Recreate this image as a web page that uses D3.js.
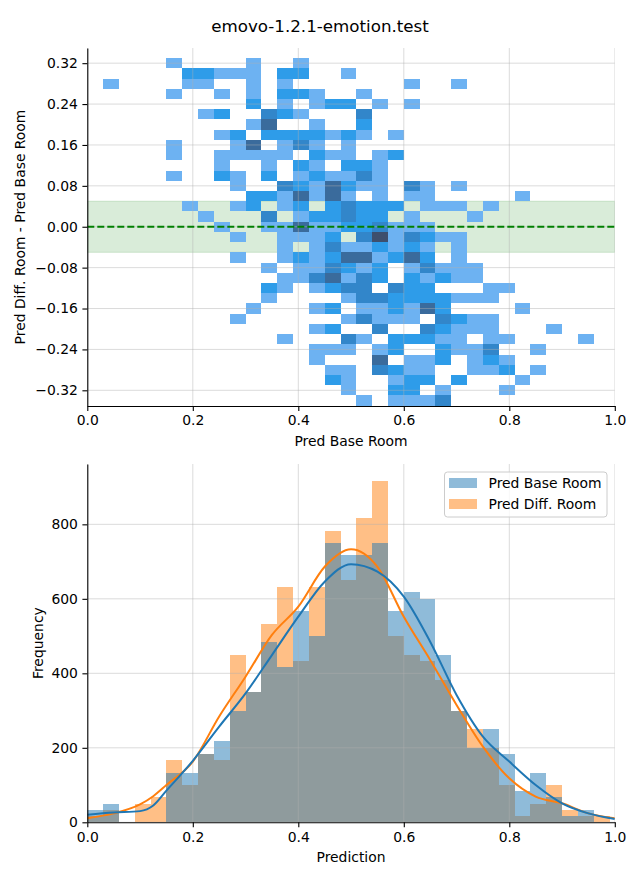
<!DOCTYPE html>
<html>
<head>
<meta charset="utf-8">
<script src="https://cdn.jsdelivr.net/npm/d3@7"></script>
<style>
  body { margin: 0; background: #fff; }
  svg { display: block; font-family: "DejaVu Sans", sans-serif; }
</style>
</head>
<body>
<svg id="chart" width="640" height="880"></svg>
<script>
// ---------------- DATA ----------------
const title = "emovo-1.2.1-emotion.test";
// 2D histogram: x bins of 0.03 from 0, y bins of 0.02 from top edge 0.33 downward
const heatXBin = 0.03;
const heatYBin = 0.02;
const heatYTop = 0.33;
// each row: "col:level" pairs (level = colour step of the count scale)
const heatRows = [
  "5:1 10:1 13:1",
  "6:2 7:2 8:1 9:1 10:1 12:2 13:2 16:1",
  "1:1 6:1 7:1 10:1 12:1 20:1 23:1",
  "5:1 8:1 10:1 12:2 13:2 14:1 17:1",
  "10:2 12:1 14:1 15:2 16:2 18:1 20:1",
  "7:1 8:2 11:3 12:2 13:1 17:3",
  "10:1 11:4 14:1 17:2",
  "8:1 9:2 11:2 12:2 13:2 14:2 15:1 16:2 17:1 19:1",
  "5:1 9:1 10:4 12:1 13:3 14:1 16:1",
  "5:1 8:1 9:1 10:1 11:1 12:1 14:2 15:1 16:1 18:1 19:2",
  "8:1 11:1 13:2 14:1 16:2 17:2 18:1",
  "5:1 8:2 9:1 11:2 13:1 14:2 15:1 16:1 17:3 18:1",
  "9:1 12:3 13:2 14:1 15:4 16:2 17:1 18:1 20:3 21:1 23:1",
  "10:2 11:2 12:1 13:4 14:1 15:4 16:1 18:1 20:1 21:1 27:1",
  "6:1 9:1 10:2 12:1 13:2 15:2 16:3 17:2 18:2 19:2 21:1 22:1 23:1 25:1",
  "7:1 11:3 13:1 14:2 15:2 16:3 17:2 18:2 20:1 24:1",
  "8:1 11:1 12:1 13:4 14:1 15:1 16:2 17:2 18:3 19:1 20:1 21:1",
  "9:1 12:1 13:1 14:1 15:2 17:3 18:5 19:1 20:3 21:2 22:1 23:1",
  "12:1 14:1 15:3 16:1 17:1 18:2 19:1 20:2 21:1 23:1",
  "9:1 12:1 13:2 14:1 15:2 16:4 17:4 18:1 19:2 20:4 21:2 23:1",
  "11:1 13:1 14:1 15:3 16:2 17:1 18:2 20:1 21:3 22:1 23:1 24:1",
  "12:1 13:1 14:3 15:4 16:1 17:3 18:2 20:2 21:1 22:2 23:1 24:1",
  "11:2 12:1 14:1 15:2 16:3 17:3 19:3 20:2 21:2 25:1 26:1",
  "11:1 16:1 17:3 18:3 19:2 20:2 21:2 22:2 23:1 24:1 25:1",
  "10:1 14:1 15:2 17:1 18:1 19:2 20:1 21:4 22:2 27:1",
  "9:1 16:1 17:3 18:1 19:1 20:1 22:3 23:2 24:1 25:1",
  "14:1 15:2 18:3 21:3 22:2 23:1 24:1 25:1 29:1",
  "12:1 16:3 17:1 19:2 20:2 21:2 22:1 23:1 25:1 26:1 31:1",
  "14:1 15:1 16:1 18:1 19:2 22:2 23:1 24:1 25:3 28:1",
  "14:1 18:4 20:1 21:1 22:2 24:1 25:2 26:1",
  "15:1 16:1 18:3 19:2 20:1 21:1 24:1 25:1 26:2 28:1",
  "15:2 16:1 19:1 20:2 21:2 23:2 27:1",
  "16:1 19:2 20:2 22:1 26:1",
  "17:1 19:1 20:1 21:1 22:3"
];
const heatColors = ["#6db2f2", "#2e9ce9", "#3286ca", "#3a6b9c", "#3e4f6d"];
const bandHalfWidth = 0.05;
const topXTicks = [0, 0.2, 0.4, 0.6, 0.8, 1.0];
const topYTicks = [-0.32, -0.24, -0.16, -0.08, 0, 0.08, 0.16, 0.24, 0.32];

// 1D histograms: 33 bins of width 0.03 starting at 0
const histBin = 0.03;
const baseFreq = [33, 50, 0, 0, 0, 133, 133, 183, 217, 300, 350, 483, 417, 567, 500, 750, 717, 717, 750, 567, 617, 600, 450, 300, 200, 250, 183, 83, 133, 67, 17, 33, 0];
const diffFreq = [17, 33, 0, 50, 67, 167, 100, 183, 167, 450, 350, 533, 633, 433, 633, 783, 650, 817, 917, 500, 450, 433, 383, 300, 250, 200, 100, 17, 50, 100, 33, 17, 17];
// KDE curves
const kdeX = [0, 0.05, 0.1, 0.125, 0.15, 0.2, 0.25, 0.3, 0.35, 0.4, 0.45, 0.5, 0.55, 0.6, 0.65, 0.7, 0.75, 0.8, 0.85, 0.9, 0.95, 1.0];
const baseKde = [20, 26, 30, 45, 85, 165, 257, 346, 449, 552, 646, 693, 673, 606, 485, 342, 230, 163, 100, 51, 24, 9];
const diffKde = [11, 24, 48, 70, 100, 163, 284, 391, 503, 579, 686, 733, 686, 552, 436, 315, 203, 118, 69, 51, 24, 11];
const botXTicks = [0, 0.2, 0.4, 0.6, 0.8, 1.0];
const botYTicks = [0, 200, 400, 600, 800];
const seriesNames = ["Pred Base Room", "Pred Diff. Room"];
const seriesColors = ["#1f77b4", "#ff7f0e"];

// ---------------- DRAW ----------------
const svg = d3.select("#chart");
const L = 87.3, R = 614.8;
const top1 = 48, bot1 = 406;
const top2 = 464, bot2 = 822.3;
const fontTick = 13.9;
const gridCol = "#b0b0b0", gridOp = 0.45;

svg.append("text").attr("x", 320).attr("y", 32).attr("text-anchor", "middle")
  .attr("font-size", 16.7).attr("fill", "#000").text(title);

// ---- top panel ----
const x1 = d3.scaleLinear().domain([0, 1]).range([L, R]);
const y1 = d3.scaleLinear().domain([-0.3507, 0.3497]).range([bot1, top1]);

const g1 = svg.append("g");
g1.append("defs").append("clipPath").attr("id", "clip1")
  .append("rect").attr("x", L).attr("y", top1).attr("width", R - L).attr("height", bot1 - top1);

const plot1 = g1.append("g").attr("clip-path", "url(#clip1)");
// band
plot1.append("rect")
  .attr("x", x1(0)).attr("width", x1(1) - x1(0))
  .attr("y", y1(bandHalfWidth)).attr("height", y1(-bandHalfWidth) - y1(bandHalfWidth))
  .attr("fill", "green").attr("fill-opacity", 0.15)
  .attr("stroke", "green").attr("stroke-opacity", 0.15).attr("stroke-width", 1);

const cells = [];
heatRows.forEach((row, r) => {
  row.split(" ").filter(s => s).forEach(p => {
    const [c, lv] = p.split(":").map(Number);
    cells.push({ r, c, lv });
  });
});
plot1.selectAll("rect.cell").data(cells).enter().append("rect")
  .attr("class", "cell")
  .attr("x", d => x1(d.c * heatXBin))
  .attr("width", d => x1((d.c + 1) * heatXBin) - x1(d.c * heatXBin))
  .attr("y", d => y1(heatYTop - d.r * heatYBin))
  .attr("height", d => y1(heatYTop - (d.r + 1) * heatYBin) - y1(heatYTop - d.r * heatYBin))
  .attr("fill", d => heatColors[d.lv - 1])
  .attr("shape-rendering", "crispEdges");

// grid
plot1.selectAll("line.gx").data(topXTicks).enter().append("line")
  .attr("x1", d => x1(d)).attr("x2", d => x1(d)).attr("y1", top1).attr("y2", bot1)
  .attr("stroke", gridCol).attr("stroke-opacity", gridOp).attr("stroke-width", 1);
plot1.selectAll("line.gy").data(topYTicks).enter().append("line")
  .attr("y1", d => y1(d)).attr("y2", d => y1(d)).attr("x1", L).attr("x2", R)
  .attr("stroke", gridCol).attr("stroke-opacity", gridOp).attr("stroke-width", 1);

// zero line
plot1.append("line").attr("x1", x1(0)).attr("x2", x1(1)).attr("y1", y1(0)).attr("y2", y1(0))
  .attr("stroke", "green").attr("stroke-width", 2).attr("stroke-dasharray", "7,3");

// axes
const ax1x = g1.append("g").attr("transform", `translate(0,${bot1})`)
  .call(d3.axisBottom(x1).tickValues(topXTicks).tickFormat(d3.format(".1f")).tickSize(4.9).tickPadding(4.5).tickSizeOuter(0));
const ax1y = g1.append("g").attr("transform", `translate(${L},0)`)
  .call(d3.axisLeft(y1).tickValues(topYTicks).tickFormat(d3.format(".2f")).tickSize(4.9).tickPadding(4.5).tickSizeOuter(0));
[ax1x, ax1y].forEach(a => {
  a.selectAll("text").attr("font-size", fontTick).attr("font-family", "DejaVu Sans").attr("fill", "#000");
  a.selectAll("line").attr("stroke", "#000").attr("stroke-width", 1.1);
  a.select(".domain").attr("stroke", "#000").attr("stroke-width", 1.1);
});
g1.append("text").attr("x", (L + R) / 2).attr("y", 446).attr("text-anchor", "middle")
  .attr("font-size", fontTick).text("Pred Base Room");
g1.append("text").attr("transform", `translate(25,${(top1 + bot1) / 2}) rotate(-90)`)
  .attr("text-anchor", "middle").attr("font-size", fontTick).text("Pred Diff. Room - Pred Base Room");

// ---- bottom panel ----
const x2 = d3.scaleLinear().domain([0, 1]).range([L, R]);
const y2 = d3.scaleLinear().domain([0, 962]).range([bot2, top2]);
const g2 = svg.append("g");
g2.append("defs").append("clipPath").attr("id", "clip2")
  .append("rect").attr("x", L).attr("y", top2 - 2).attr("width", R - L).attr("height", bot2 - top2 + 2);
const plot2 = g2.append("g").attr("clip-path", "url(#clip2)");

function bars(values, color, cls) {
  plot2.selectAll("rect." + cls).data(values).enter().append("rect")
    .attr("class", cls)
    .attr("x", (d, i) => x2(i * histBin))
    .attr("width", (d, i) => x2((i + 1) * histBin) - x2(i * histBin))
    .attr("y", d => y2(d))
    .attr("height", d => y2(0) - y2(d))
    .attr("fill", color).attr("fill-opacity", 0.5)
    .attr("shape-rendering", "crispEdges");
}
bars(diffFreq, seriesColors[1], "bd");
bars(baseFreq, seriesColors[0], "bb");

plot2.selectAll("line.gx").data(botXTicks).enter().append("line")
  .attr("x1", d => x2(d)).attr("x2", d => x2(d)).attr("y1", top2).attr("y2", bot2)
  .attr("stroke", gridCol).attr("stroke-opacity", gridOp).attr("stroke-width", 1);
plot2.selectAll("line.gy").data(botYTicks).enter().append("line")
  .attr("y1", d => y2(d)).attr("y2", d => y2(d)).attr("x1", L).attr("x2", R)
  .attr("stroke", gridCol).attr("stroke-opacity", gridOp).attr("stroke-width", 1);

const line = d3.line().x(d => x2(d[0])).y(d => y2(d[1])).curve(d3.curveMonotoneX);
plot2.append("path").datum(kdeX.map((x, i) => [x, diffKde[i]]))
  .attr("d", line).attr("fill", "none").attr("stroke", seriesColors[1]).attr("stroke-width", 2);
plot2.append("path").datum(kdeX.map((x, i) => [x, baseKde[i]]))
  .attr("d", line).attr("fill", "none").attr("stroke", seriesColors[0]).attr("stroke-width", 2);

const ax2x = g2.append("g").attr("transform", `translate(0,${bot2})`)
  .call(d3.axisBottom(x2).tickValues(botXTicks).tickFormat(d3.format(".1f")).tickSize(4.9).tickPadding(4.5).tickSizeOuter(0));
const ax2y = g2.append("g").attr("transform", `translate(${L},0)`)
  .call(d3.axisLeft(y2).tickValues(botYTicks).tickFormat(d3.format("d")).tickSize(4.9).tickPadding(4.5).tickSizeOuter(0));
[ax2x, ax2y].forEach(a => {
  a.selectAll("text").attr("font-size", fontTick).attr("font-family", "DejaVu Sans").attr("fill", "#000");
  a.selectAll("line").attr("stroke", "#000").attr("stroke-width", 1.1);
  a.select(".domain").attr("stroke", "#000").attr("stroke-width", 1.1);
});
g2.append("text").attr("x", (L + R) / 2).attr("y", 862).attr("text-anchor", "middle")
  .attr("font-size", fontTick).text("Prediction");
g2.append("text").attr("transform", `translate(43,${(top2 + bot2) / 2}) rotate(-90)`)
  .attr("text-anchor", "middle").attr("font-size", fontTick).text("Frequency");

// legend
const lg = g2.append("g");
lg.append("rect").attr("x", 444.5).attr("y", 472).attr("width", 162.5).attr("height", 45)
  .attr("rx", 3).attr("fill", "#fff").attr("fill-opacity", 0.8).attr("stroke", "#cccccc").attr("stroke-width", 1);
seriesNames.forEach((name, i) => {
  const yy = 478 + i * 21;
  lg.append("rect").attr("x", 449).attr("y", yy).attr("width", 28).attr("height", 10)
    .attr("fill", seriesColors[i]).attr("fill-opacity", 0.5);
  lg.append("text").attr("x", 488.5).attr("y", yy + 10).attr("font-size", fontTick).text(name);
});
</script>
</body>
</html>
